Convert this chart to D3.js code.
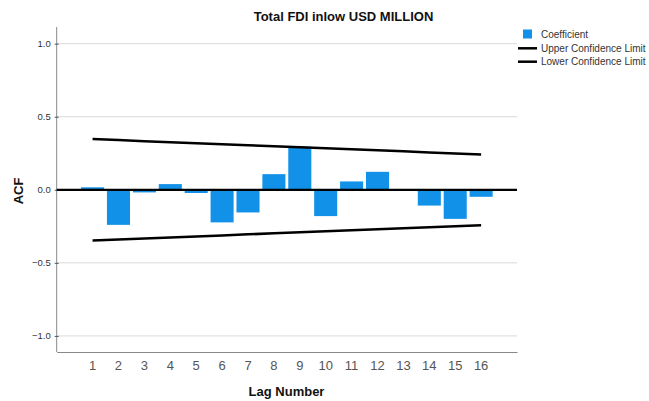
<!DOCTYPE html>
<html>
<head>
<meta charset="utf-8">
<script src="https://cdn.jsdelivr.net/npm/d3@7"></script>
<style>
  html, body { margin: 0; padding: 0; background: #fff; }
  svg { display: block; font-family: Arial, "Liberation Sans", sans-serif; }
</style>
</head>
<body>
<svg id="chart" width="649" height="401"></svg>
<script>
// Autocorrelation of Total FDI inflow, lags 1-16
const lags = [1, 2, 3, 4, 5, 6, 7, 8, 9, 10, 11, 12, 13, 14, 15, 16];
const coefficients = [0.017, -0.240, -0.018, 0.039, -0.022, -0.223, -0.155, 0.107,
                      0.295, -0.180, 0.057, 0.123, 0.003, -0.108, -0.199, -0.048];
const upperLimit = [0.347, 0.340, 0.333, 0.326, 0.319, 0.312, 0.305, 0.298,
                    0.291, 0.284, 0.277, 0.270, 0.263, 0.256, 0.249, 0.242];
const lowerLimit = [-0.347, -0.340, -0.333, -0.326, -0.319, -0.312, -0.305, -0.298,
                    -0.291, -0.284, -0.277, -0.270, -0.263, -0.256, -0.249, -0.242];
const yTicks = [-1.0, -0.5, 0.0, 0.5, 1.0];
const legendItems = ["Coefficient", "Upper Confidence Limit", "Lower Confidence Limit"];

const svg = d3.select("#chart");
const plotLeft = 56.7, plotRight = 517, plotTop = 27, plotBottom = 352;

const x = d3.scaleBand().domain(lags).range([plotLeft, plotRight])
  .paddingInner(0.11).paddingOuter(0.94);
const y = d3.scaleLinear().domain([-1.11, 1.114]).range([plotBottom, plotTop]);
const cx = d => x(d) + x.bandwidth() / 2;

// grid lines
svg.append("g").selectAll("line").data(yTicks.filter(t => t !== 0)).join("line")
  .attr("x1", plotLeft).attr("x2", plotRight)
  .attr("y1", d => y(d)).attr("y2", d => y(d))
  .attr("stroke", "#d9d9d9").attr("stroke-width", 1);

// y axis
const yAxis = svg.append("g").attr("transform", `translate(${plotLeft},0)`)
  .call(d3.axisLeft(y).tickValues(yTicks).tickFormat(d3.format(".1f"))
    .tickSizeInner(2).tickSizeOuter(0).tickPadding(4));
yAxis.select(".domain").attr("stroke", "#888").attr("d", `M0,${plotTop}V${plotBottom}`);
yAxis.selectAll(".tick line").attr("stroke", "#555").attr("x2", 2).attr("x1", -2);
yAxis.selectAll(".tick text").attr("fill", "#333").style("font-size", "9.5px")
  .style("font-family", "Arial, 'Liberation Sans', sans-serif");

// x axis
const xAxis = svg.append("g").attr("transform", `translate(0,${plotBottom})`)
  .call(d3.axisBottom(x).tickSize(0).tickPadding(9));
xAxis.select(".domain").attr("stroke", "#888");
xAxis.selectAll(".tick text").attr("fill", "#555").style("font-size", "13px")
  .style("font-family", "Arial, 'Liberation Sans', sans-serif");

// coefficient bars
svg.append("g").selectAll("rect").data(lags).join("rect")
  .attr("x", d => x(d))
  .attr("width", x.bandwidth())
  .attr("y", (d, i) => y(Math.max(0, coefficients[i])))
  .attr("height", (d, i) => Math.abs(y(coefficients[i]) - y(0)))
  .attr("fill", "#1192e8");

// zero reference line
svg.append("line")
  .attr("x1", plotLeft).attr("x2", plotRight).attr("y1", y(0)).attr("y2", y(0))
  .attr("stroke", "#000").attr("stroke-width", 2.2);

// confidence limits
const line = d3.line().x((d, i) => cx(lags[i])).y(d => y(d));
[upperLimit, lowerLimit].forEach(s => {
  svg.append("path").datum(s).attr("d", line)
    .attr("fill", "none").attr("stroke", "#000").attr("stroke-width", 2.5);
});

// title
svg.append("text").attr("x", 343.5).attr("y", 21).attr("text-anchor", "middle")
  .style("font-size", "13px").style("font-weight", "bold").attr("fill", "#111")
  .text("Total FDI inlow USD MILLION");

// axis titles
svg.append("text").attr("x", 286.5).attr("y", 396).attr("text-anchor", "middle")
  .style("font-size", "13px").style("font-weight", "bold").attr("fill", "#111")
  .text("Lag Number");
svg.append("text").attr("transform", "translate(23,191) rotate(-90)")
  .attr("text-anchor", "middle")
  .style("font-size", "13px").style("font-weight", "bold").attr("fill", "#111")
  .text("ACF");

// legend
const lg = svg.append("g");
lg.append("rect").attr("x", 523).attr("y", 29.5).attr("width", 9).attr("height", 9)
  .attr("fill", "#1192e8");
[48.3, 61.7].forEach(yy => {
  lg.append("line").attr("x1", 518).attr("x2", 537).attr("y1", yy).attr("y2", yy)
    .attr("stroke", "#000").attr("stroke-width", 2.5);
});
lg.selectAll("text").data(legendItems).join("text")
  .attr("x", 541).attr("y", (d, i) => [34, 48.3, 61.7][i])
  .attr("dy", "0.35em")
  .style("font-size", "10px").attr("fill", "#333")
  .text(d => d);
</script>
</body>
</html>
